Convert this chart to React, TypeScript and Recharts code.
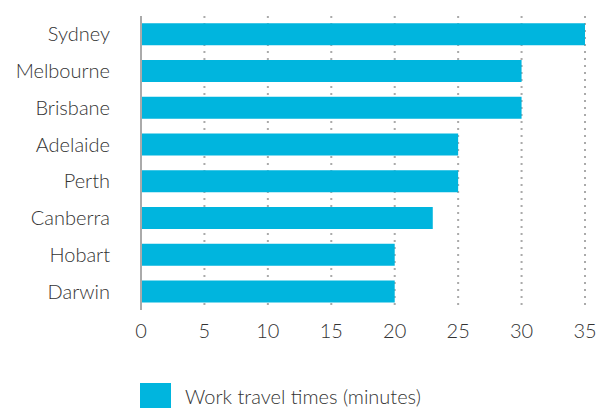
import { BarChart, Bar, XAxis, YAxis, CartesianGrid, Legend } from 'recharts';

const cities = ['Sydney', 'Melbourne', 'Brisbane', 'Adelaide', 'Perth', 'Canberra', 'Hobart', 'Darwin'];
const travelMinutes = [35, 30, 30, 25, 25, 23, 20, 20];
const xTicks = [0, 5, 10, 15, 20, 25, 30, 35];

const data = cities.map((city, i) => ({ city, minutes: travelMinutes[i] }));

const FONT = 'Lato, "Open Sans", sans-serif';
const BAR = '#00B5DE';

function LegendBox() {
  return (
    <div style={{ display: 'flex', alignItems: 'center', paddingLeft: 140, paddingTop: 9, fontFamily: FONT, fontWeight: 300, fontSize: 20, color: '#333' }}>
      <span style={{ display: 'inline-block', width: 31, height: 25, background: BAR, marginRight: 14 }} />
      <span>Work travel times (minutes)</span>
    </div>
  );
}

export default function App() {
  return (
    <div>
      <style>{'body{margin:0}'}</style>
      <BarChart
        width={601}
        height={408}
        data={data}
        layout="vertical"
        barCategoryGap="20%"
        margin={{ top: 16, right: 16, left: 0, bottom: 0 }}
      >
        <CartesianGrid horizontal={false} stroke="#aaa" strokeWidth={2} strokeDasharray="2 5" />
        <XAxis
          type="number"
          domain={[0, 35]}
          ticks={xTicks}
          axisLine={false}
          tickLine={false}
          tickSize={0}
          tickMargin={14}
          height={64}
          tick={{ fill: '#333', fontSize: 20, fontFamily: FONT, fontWeight: 300 }}
        />
        <YAxis
          type="category"
          dataKey="city"
          width={141}
          axisLine={{ stroke: '#aaa', strokeWidth: 2 }}
          tickLine={false}
          tickSize={0}
          tickMargin={31}
          tick={{ fill: '#333', fontSize: 20, fontFamily: FONT, fontWeight: 300 }}
        />
        <Legend verticalAlign="bottom" height={34} content={() => <LegendBox />} />
        <Bar dataKey="minutes" fill={BAR} isAnimationActive={false} />
      </BarChart>
    </div>
  );
}
